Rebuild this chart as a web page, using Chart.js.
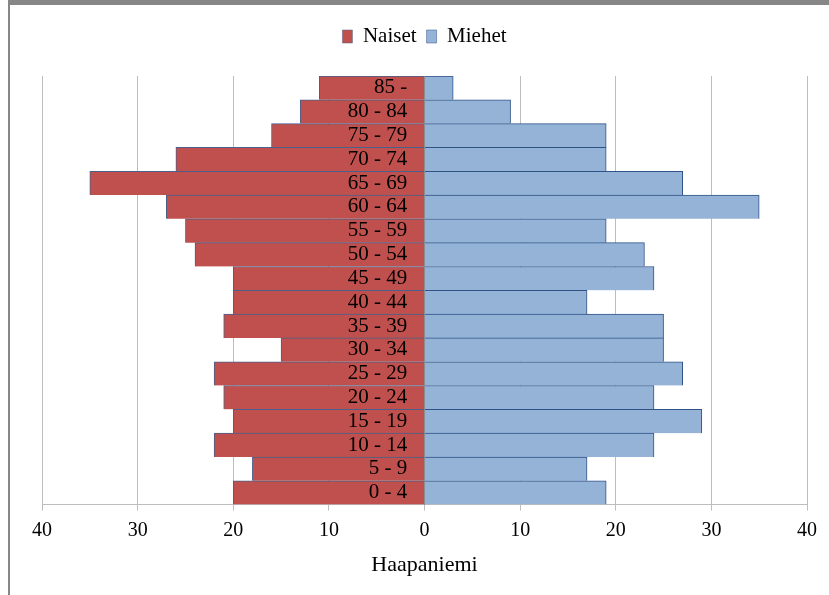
<!DOCTYPE html>
<html>
<head>
<meta charset="utf-8">
<script src="https://cdn.jsdelivr.net/npm/chart.js@4/dist/chart.umd.min.js"></script>
<style>
  html, body { margin: 0; padding: 0; background: #fff; }
  #wrap { position: relative; width: 829px; height: 595px; }
  #frameTop { position: absolute; left: 8px; top: 0; width: 821px; height: 5px; background: #878787; }
  #frameLeft { position: absolute; left: 8px; top: 0; width: 2px; height: 595px; background: #878787; }
</style>
</head>
<body>
<div id="wrap">
  <canvas id="chart" width="829" height="595"></canvas>
  <div id="frameTop"></div>
  <div id="frameLeft"></div>
</div>
<script>
// Data (top row first)
const ageGroups = ["85 -", "80 - 84", "75 - 79", "70 - 74", "65 - 69", "60 - 64", "55 - 59", "50 - 54", "45 - 49",
  "40 - 44", "35 - 39", "30 - 34", "25 - 29", "20 - 24", "15 - 19", "10 - 14", "5 - 9", "0 - 4"];
const naiset = [11, 13, 16, 26, 35, 27, 25, 24, 20, 20, 21, 15, 22, 21, 20, 22, 18, 20];
const miehet = [3, 9, 19, 19, 27, 35, 19, 23, 24, 17, 25, 25, 27, 24, 29, 24, 17, 19];
const xTicks = [-40, -30, -20, -10, 0, 10, 20, 30, 40];

const SERIF = "'Liberation Serif', 'Times New Roman', serif";

// give the legend some extra room below it
const legendGap = {
  id: "legendGap",
  beforeInit(chart) {
    const fit = chart.legend.fit;
    chart.legend.fit = function () {
      fit.bind(chart.legend)();
      this.height += 19;
    };
  }
};

const ctx = document.getElementById("chart").getContext("2d");
new Chart(ctx, {
  type: "bar",
  data: {
    labels: ageGroups,
    datasets: [
      {
        label: "Naiset",
        data: naiset.map(v => -v),
        backgroundColor: "#C0504D",
        borderColor: "#4a5f8a",
        borderWidth: { top: 1, left: 1, bottom: 0, right: 0 },
        barPercentage: 1,
        categoryPercentage: 1
      },
      {
        label: "Miehet",
        data: miehet,
        backgroundColor: "#95B3D7",
        borderColor: "#2f5388",
        borderWidth: { top: 1, right: 1, bottom: 0, left: 0 },
        barPercentage: 1,
        categoryPercentage: 1
      }
    ]
  },
  options: {
    indexAxis: "y",
    responsive: false,
    animation: false,
    layout: { padding: { left: 42, right: 22, top: 16, bottom: 17 } },
    scales: {
      x: {
        min: -40,
        max: 40,
        stacked: true,
        afterBuildTicks: axis => { axis.ticks = xTicks.map(v => ({ value: v })); },
        grid: { color: "#bdbdbd", tickLength: 6, tickColor: "#bdbdbd" },
        border: { color: "#bdbdbd" },
        ticks: {
          padding: 8,
          color: "#000",
          font: { family: SERIF, size: 20 },
          callback: v => Math.abs(v)
        },
        title: {
          display: true,
          text: "Haapaniemi",
          color: "#000",
          font: { family: SERIF, size: 22 },
          padding: { top: 1, bottom: 0 }
        }
      },
      // axis the bars use; only its line at 0 is shown
      y: {
        stacked: true,
        position: { x: 0 },
        grid: { display: false, drawTicks: false },
        border: { color: "#8c8c8c", z: 1 },
        ticks: { display: false }
      },
      // age group labels, a little left of the 0 line
      yLabels: {
        type: "category",
        position: { x: -1.8 },
        grid: { display: false, drawTicks: false },
        border: { display: false },
        ticks: {
          z: 1,
          autoSkip: false,
          color: "#000",
          font: { family: SERIF, size: 21 }
        }
      }
    },
    plugins: {
      legend: {
        position: "top",
        labels: {
          boxWidth: 10,
          boxHeight: 13,
          padding: 10,
          color: "#000",
          font: { family: SERIF, size: 21 }
        }
      },
      tooltip: { enabled: false }
    }
  },
  plugins: [legendGap]
});
</script>
</body>
</html>
